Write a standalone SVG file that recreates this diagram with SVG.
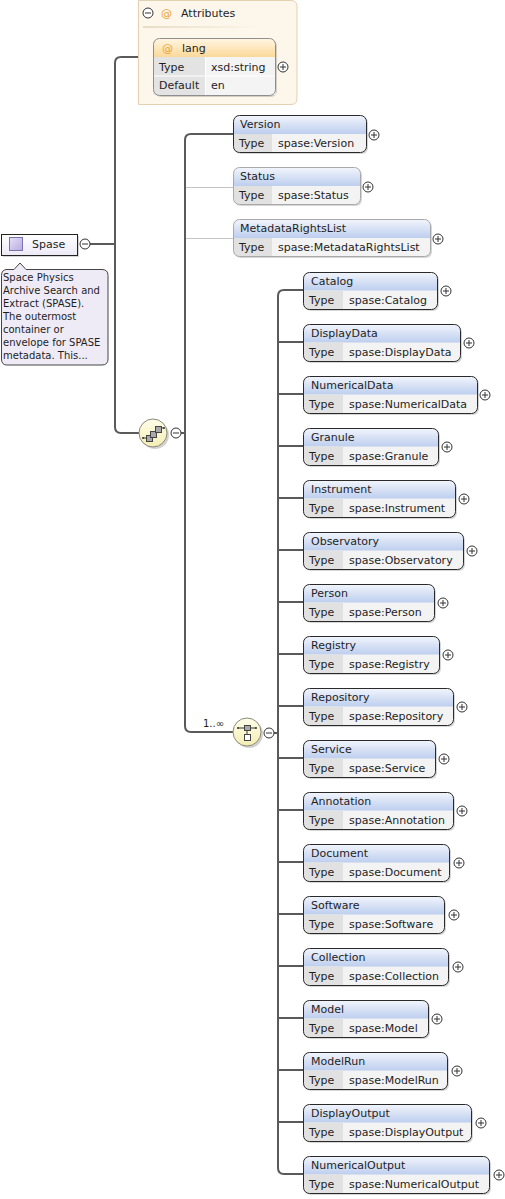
<svg xmlns="http://www.w3.org/2000/svg" width="505" height="1199" viewBox="0 0 505 1199">
<style>
text{font-family:"DejaVu Sans",Verdana,sans-serif;font-size:11px;fill:#1e1e1e}
.sm{font-size:10px}
.sh{fill:#000;opacity:.16}
.bd{fill:none;stroke:#2a2a2a;stroke-width:1}
.bdo{fill:none;stroke:#a9a9a9;stroke-width:1}
.row{fill:#F3F3F3}
.lab{fill:#E1E1E1}
.hd{fill:url(#hg)}
.sep{stroke:#fff;stroke-width:1}
.pc{fill:#fff;stroke:#333;stroke-width:1}
.pl{stroke:#333;stroke-width:1;fill:none}
.c{fill:none;stroke:#5a5a5a;stroke-width:2}
.co{fill:none;stroke:#c4c4c4;stroke-width:1}
.at{fill:#E9A232}
</style>
<defs>
<linearGradient id="hg" x1="0" y1="0" x2="0" y2="1"><stop offset="0" stop-color="#F2F5FC"/><stop offset="1" stop-color="#BDCEEE"/></linearGradient>
<linearGradient id="og" x1="0" y1="0" x2="0" y2="1"><stop offset="0" stop-color="#FFF6E4"/><stop offset="1" stop-color="#FBD898"/></linearGradient>
<linearGradient id="yg" x1="0" y1="0" x2="0" y2="1"><stop offset="0" stop-color="#FFFEEA"/><stop offset="1" stop-color="#F4EDB4"/></linearGradient>
<linearGradient id="pg" x1="0" y1="0" x2="0" y2="1"><stop offset="0" stop-color="#FFFFFF"/><stop offset="1" stop-color="#ECE9F6"/></linearGradient>
<linearGradient id="ig" x1="0" y1="0" x2="1" y2="1"><stop offset="0" stop-color="#E6E0F8"/><stop offset="1" stop-color="#B6AADF"/></linearGradient>
<linearGradient id="sg" x1="0" y1="0" x2="1" y2="0"><stop offset="0" stop-color="#E9DCC6"/><stop offset="1" stop-color="#FDF6EA"/></linearGradient>
<g id="plus"><circle class="pc" r="5"/><path class="pl" d="M-3 0H3M0 -3V3"/></g>
<g id="minus"><circle class="pc" r="5"/><path class="pl" d="M-3 0H3"/></g>
</defs>

<g id="connectors">
<path class="c" d="M90 244H115"/>
<path class="c" d="M138 57H121Q115 57 115 63V427Q115 433 121 433H139"/>
<path class="c" d="M181 433H185"/>
<path class="c" d="M233 134H191Q185 134 185 140V726Q185 732 191 732H233"/>
<path class="co" d="M186 187.5H233M186 238.5H233"/>
<path class="c" d="M274 733H278"/>
<path class="c" d="M303 290H284Q278 290 278 296V1168Q278 1174 284 1174H303"/>
<path class="c" d="M278 342H303M278 394H303M278 446H303M278 498H303M278 550H303M278 602H303M278 654H303M278 706H303M278 758H303M278 810H303M278 862H303M278 914H303M278 966H303M278 1018H303M278 1070H303M278 1122H303"/>
<text class="sm" x="203" y="727">1..∞</text>
</g>

<g id="attributes">
<path d="M138.5 0.5V104.5H291Q297 104.5 297 98.5V6.5Q297 0.5 291 0.5Z" fill="#FDF6EA" stroke="#E2D1B2"/>
<use href="#minus" x="148" y="13"/>
<text class="at" x="161" y="17">@</text>
<text x="181" y="17">Attributes</text>
<rect x="143" y="26" width="117" height="2" fill="url(#sg)"/>
</g>

<g id="lang">
<rect class="sh" x="155" y="40" width="122" height="57" rx="6"/>
<path d="M153.5 57V44Q153.5 38.5 159 38.5H269Q275.5 38.5 275.5 44V57Z" fill="url(#og)"/>
<rect x="153.5" y="57" width="122" height="38" fill="#F4F4F4"/>
<rect x="153.5" y="57" width="52" height="38" fill="#E3E3E3"/>
<path class="sep" d="M154 76H275M205.5 57V95"/>
<rect x="153.5" y="38.5" width="122" height="57" rx="6" fill="none" stroke="#8e8e8e"/>
<text class="at" x="162" y="52">@</text>
<text x="182" y="52">lang</text>
<text x="159" y="71">Type</text>
<text x="211" y="71">xsd:string</text>
<text x="159" y="89">Default</text>
<text x="211" y="89">en</text>
<use href="#plus" x="283" y="67"/>
</g>

<g id="spase">
<rect class="sh" x="3" y="236" width="76" height="21"/>
<rect x="1.5" y="234.5" width="76" height="21" fill="url(#pg)" stroke="#222"/>
<rect x="9.5" y="237.5" width="13" height="13" fill="url(#ig)" stroke="#7C72AE"/>
<text x="32" y="248">Spase</text>
<use href="#minus" x="85" y="244"/>
<path d="M7 269.5H14L20 263L26 269.5H102Q108 269.5 108 275.5V359Q108 365 102 365H7Q1.5 365 1.5 359V275.5Q1.5 269.5 7 269.5Z" fill="#EEEBF6" stroke="#444"/>
<text class="sm" x="3" y="281">Space Physics</text>
<text class="sm" x="3" y="294">Archive Search and</text>
<text class="sm" x="3" y="307">Extract (SPASE).</text>
<text class="sm" x="3" y="320">The outermost</text>
<text class="sm" x="3" y="333">container or</text>
<text class="sm" x="3" y="346">envelope for SPASE</text>
<text class="sm" x="3" y="359">metadata. This...</text>
</g>

<g id="sequence">
<circle cx="155" cy="435" r="14" fill="#000" opacity=".18"/>
<circle cx="153" cy="433" r="14" fill="url(#yg)" stroke="#8a8a7a"/>
<path d="M143 438H147M160 428H164" stroke="#333" fill="none"/>
<circle cx="143" cy="438" r="1" fill="#333"/><circle cx="164" cy="428" r="1" fill="#333"/>
<rect x="146.5" y="435.5" width="6" height="6" fill="#A9A9A9" stroke="#444"/>
<rect x="150.5" y="431.5" width="6" height="6" fill="#A9A9A9" stroke="#444"/>
<rect x="155.5" y="426.5" width="6" height="6" fill="#A9A9A9" stroke="#444"/>
<use href="#minus" x="176" y="433"/>
</g>

<g id="choice">
<circle cx="249" cy="734" r="14" fill="#000" opacity=".18"/>
<circle cx="247" cy="732" r="14" fill="url(#yg)" stroke="#8a8a7a"/>
<path d="M238 728H256M247 731V734" stroke="#333" fill="none"/>
<circle cx="238" cy="728" r="1" fill="#333"/><circle cx="256" cy="728" r="1" fill="#333"/>
<rect x="244.5" y="725.5" width="6" height="5" fill="#A9A9A9" stroke="#444"/>
<rect x="244.5" y="734.5" width="6" height="6" fill="#fff" stroke="#444"/>
<use href="#minus" x="269" y="733"/>
</g>

<g id="version">
<rect class="sh" x="235" y="117" width="133" height="37" rx="6"/>
<rect class="row" x="233.5" y="115.5" width="133" height="37" rx="6"/>
<path class="hd" d="M233.5 134V121.5Q233.5 115.5 239.5 115.5H360.5Q366.5 115.5 366.5 121.5V134Z"/>
<path class="lab" d="M233.5 134H272V152.5H239.5Q233.5 152.5 233.5 146.5Z"/>
<rect class="bd" x="233.5" y="115.5" width="133" height="37" rx="6"/>
<text x="240" y="128">Version</text>
<text x="239" y="147">Type</text>
<text x="278" y="147">spase:Version</text>
<use href="#plus" x="374" y="135"/>
</g>

<g id="status">
<rect class="sh" x="235" y="169" width="127" height="37" rx="6"/>
<rect class="row" x="233.5" y="167.5" width="127" height="37" rx="6"/>
<path class="hd" d="M233.5 186V173.5Q233.5 167.5 239.5 167.5H354.5Q360.5 167.5 360.5 173.5V186Z"/>
<path class="lab" d="M233.5 186H272V204.5H239.5Q233.5 204.5 233.5 198.5Z"/>
<rect class="bdo" x="233.5" y="167.5" width="127" height="37" rx="6"/>
<text x="240" y="180">Status</text>
<text x="239" y="199">Type</text>
<text x="278" y="199">spase:Status</text>
<use href="#plus" x="368" y="187"/>
</g>

<g id="metadatarightslist">
<rect class="sh" x="235" y="221" width="197" height="37" rx="6"/>
<rect class="row" x="233.5" y="219.5" width="197" height="37" rx="6"/>
<path class="hd" d="M233.5 238V225.5Q233.5 219.5 239.5 219.5H424.5Q430.5 219.5 430.5 225.5V238Z"/>
<path class="lab" d="M233.5 238H272V256.5H239.5Q233.5 256.5 233.5 250.5Z"/>
<rect class="bdo" x="233.5" y="219.5" width="197" height="37" rx="6"/>
<text x="240" y="232">MetadataRightsList</text>
<text x="239" y="251">Type</text>
<text x="278" y="251">spase:MetadataRightsList</text>
<use href="#plus" x="438" y="239"/>
</g>

<g id="catalog" transform="translate(0,272)">
<rect class="sh" x="305" y="2" width="134" height="37" rx="6"/><rect class="row" x="303.5" y="0.5" width="134" height="37" rx="6"/>
<path class="hd" d="M303.5 18.5V6.5Q303.5 0.5 309.5 0.5H431.5Q437.5 0.5 437.5 6.5V18.5Z"/><path class="lab" d="M303.5 18.5H343V37.5H309.5Q303.5 37.5 303.5 31.5Z"/>
<rect class="bd" x="303.5" y="0.5" width="134" height="37" rx="6"/>
<text x="311" y="13">Catalog</text><text x="309" y="32">Type</text><text x="349" y="32">spase:Catalog</text><use href="#plus" x="446" y="19"/>
</g>
<g id="displaydata" transform="translate(0,324)">
<rect class="sh" x="305" y="2" width="157" height="37" rx="6"/><rect class="row" x="303.5" y="0.5" width="157" height="37" rx="6"/>
<path class="hd" d="M303.5 18.5V6.5Q303.5 0.5 309.5 0.5H454.5Q460.5 0.5 460.5 6.5V18.5Z"/><path class="lab" d="M303.5 18.5H343V37.5H309.5Q303.5 37.5 303.5 31.5Z"/>
<rect class="bd" x="303.5" y="0.5" width="157" height="37" rx="6"/>
<text x="311" y="13">DisplayData</text><text x="309" y="32">Type</text><text x="349" y="32">spase:DisplayData</text><use href="#plus" x="469" y="19"/>
</g>
<g id="numericaldata" transform="translate(0,376)">
<rect class="sh" x="305" y="2" width="174" height="37" rx="6"/><rect class="row" x="303.5" y="0.5" width="174" height="37" rx="6"/>
<path class="hd" d="M303.5 18.5V6.5Q303.5 0.5 309.5 0.5H471.5Q477.5 0.5 477.5 6.5V18.5Z"/><path class="lab" d="M303.5 18.5H343V37.5H309.5Q303.5 37.5 303.5 31.5Z"/>
<rect class="bd" x="303.5" y="0.5" width="174" height="37" rx="6"/>
<text x="311" y="13">NumericalData</text><text x="309" y="32">Type</text><text x="349" y="32">spase:NumericalData</text><use href="#plus" x="485" y="19"/>
</g>
<g id="granule" transform="translate(0,428)">
<rect class="sh" x="305" y="2" width="135" height="37" rx="6"/><rect class="row" x="303.5" y="0.5" width="135" height="37" rx="6"/>
<path class="hd" d="M303.5 18.5V6.5Q303.5 0.5 309.5 0.5H432.5Q438.5 0.5 438.5 6.5V18.5Z"/><path class="lab" d="M303.5 18.5H343V37.5H309.5Q303.5 37.5 303.5 31.5Z"/>
<rect class="bd" x="303.5" y="0.5" width="135" height="37" rx="6"/>
<text x="311" y="13">Granule</text><text x="309" y="32">Type</text><text x="349" y="32">spase:Granule</text><use href="#plus" x="447" y="19"/>
</g>
<g id="instrument" transform="translate(0,480)">
<rect class="sh" x="305" y="2" width="152" height="37" rx="6"/><rect class="row" x="303.5" y="0.5" width="152" height="37" rx="6"/>
<path class="hd" d="M303.5 18.5V6.5Q303.5 0.5 309.5 0.5H449.5Q455.5 0.5 455.5 6.5V18.5Z"/><path class="lab" d="M303.5 18.5H343V37.5H309.5Q303.5 37.5 303.5 31.5Z"/>
<rect class="bd" x="303.5" y="0.5" width="152" height="37" rx="6"/>
<text x="311" y="13">Instrument</text><text x="309" y="32">Type</text><text x="349" y="32">spase:Instrument</text><use href="#plus" x="464" y="19"/>
</g>
<g id="observatory" transform="translate(0,532)">
<rect class="sh" x="305" y="2" width="160" height="37" rx="6"/><rect class="row" x="303.5" y="0.5" width="160" height="37" rx="6"/>
<path class="hd" d="M303.5 18.5V6.5Q303.5 0.5 309.5 0.5H457.5Q463.5 0.5 463.5 6.5V18.5Z"/><path class="lab" d="M303.5 18.5H343V37.5H309.5Q303.5 37.5 303.5 31.5Z"/>
<rect class="bd" x="303.5" y="0.5" width="160" height="37" rx="6"/>
<text x="311" y="13">Observatory</text><text x="309" y="32">Type</text><text x="349" y="32">spase:Observatory</text><use href="#plus" x="472" y="19"/>
</g>
<g id="person" transform="translate(0,584)">
<rect class="sh" x="305" y="2" width="131" height="37" rx="6"/><rect class="row" x="303.5" y="0.5" width="131" height="37" rx="6"/>
<path class="hd" d="M303.5 18.5V6.5Q303.5 0.5 309.5 0.5H428.5Q434.5 0.5 434.5 6.5V18.5Z"/><path class="lab" d="M303.5 18.5H343V37.5H309.5Q303.5 37.5 303.5 31.5Z"/>
<rect class="bd" x="303.5" y="0.5" width="131" height="37" rx="6"/>
<text x="311" y="13">Person</text><text x="309" y="32">Type</text><text x="349" y="32">spase:Person</text><use href="#plus" x="443" y="19"/>
</g>
<g id="registry" transform="translate(0,636)">
<rect class="sh" x="305" y="2" width="136" height="37" rx="6"/><rect class="row" x="303.5" y="0.5" width="136" height="37" rx="6"/>
<path class="hd" d="M303.5 18.5V6.5Q303.5 0.5 309.5 0.5H433.5Q439.5 0.5 439.5 6.5V18.5Z"/><path class="lab" d="M303.5 18.5H343V37.5H309.5Q303.5 37.5 303.5 31.5Z"/>
<rect class="bd" x="303.5" y="0.5" width="136" height="37" rx="6"/>
<text x="311" y="13">Registry</text><text x="309" y="32">Type</text><text x="349" y="32">spase:Registry</text><use href="#plus" x="448" y="19"/>
</g>
<g id="repository" transform="translate(0,688)">
<rect class="sh" x="305" y="2" width="150" height="37" rx="6"/><rect class="row" x="303.5" y="0.5" width="150" height="37" rx="6"/>
<path class="hd" d="M303.5 18.5V6.5Q303.5 0.5 309.5 0.5H447.5Q453.5 0.5 453.5 6.5V18.5Z"/><path class="lab" d="M303.5 18.5H343V37.5H309.5Q303.5 37.5 303.5 31.5Z"/>
<rect class="bd" x="303.5" y="0.5" width="150" height="37" rx="6"/>
<text x="311" y="13">Repository</text><text x="309" y="32">Type</text><text x="349" y="32">spase:Repository</text><use href="#plus" x="462" y="19"/>
</g>
<g id="service" transform="translate(0,740)">
<rect class="sh" x="305" y="2" width="132" height="37" rx="6"/><rect class="row" x="303.5" y="0.5" width="132" height="37" rx="6"/>
<path class="hd" d="M303.5 18.5V6.5Q303.5 0.5 309.5 0.5H429.5Q435.5 0.5 435.5 6.5V18.5Z"/><path class="lab" d="M303.5 18.5H343V37.5H309.5Q303.5 37.5 303.5 31.5Z"/>
<rect class="bd" x="303.5" y="0.5" width="132" height="37" rx="6"/>
<text x="311" y="13">Service</text><text x="309" y="32">Type</text><text x="349" y="32">spase:Service</text><use href="#plus" x="444" y="19"/>
</g>
<g id="annotation" transform="translate(0,792)">
<rect class="sh" x="305" y="2" width="150" height="37" rx="6"/><rect class="row" x="303.5" y="0.5" width="150" height="37" rx="6"/>
<path class="hd" d="M303.5 18.5V6.5Q303.5 0.5 309.5 0.5H447.5Q453.5 0.5 453.5 6.5V18.5Z"/><path class="lab" d="M303.5 18.5H343V37.5H309.5Q303.5 37.5 303.5 31.5Z"/>
<rect class="bd" x="303.5" y="0.5" width="150" height="37" rx="6"/>
<text x="311" y="13">Annotation</text><text x="309" y="32">Type</text><text x="349" y="32">spase:Annotation</text><use href="#plus" x="462" y="19"/>
</g>
<g id="document" transform="translate(0,844)">
<rect class="sh" x="305" y="2" width="146" height="37" rx="6"/><rect class="row" x="303.5" y="0.5" width="146" height="37" rx="6"/>
<path class="hd" d="M303.5 18.5V6.5Q303.5 0.5 309.5 0.5H443.5Q449.5 0.5 449.5 6.5V18.5Z"/><path class="lab" d="M303.5 18.5H343V37.5H309.5Q303.5 37.5 303.5 31.5Z"/>
<rect class="bd" x="303.5" y="0.5" width="146" height="37" rx="6"/>
<text x="311" y="13">Document</text><text x="309" y="32">Type</text><text x="349" y="32">spase:Document</text><use href="#plus" x="459" y="19"/>
</g>
<g id="software" transform="translate(0,896)">
<rect class="sh" x="305" y="2" width="141" height="37" rx="6"/><rect class="row" x="303.5" y="0.5" width="141" height="37" rx="6"/>
<path class="hd" d="M303.5 18.5V6.5Q303.5 0.5 309.5 0.5H438.5Q444.5 0.5 444.5 6.5V18.5Z"/><path class="lab" d="M303.5 18.5H343V37.5H309.5Q303.5 37.5 303.5 31.5Z"/>
<rect class="bd" x="303.5" y="0.5" width="141" height="37" rx="6"/>
<text x="311" y="13">Software</text><text x="309" y="32">Type</text><text x="349" y="32">spase:Software</text><use href="#plus" x="454" y="19"/>
</g>
<g id="collection" transform="translate(0,948)">
<rect class="sh" x="305" y="2" width="145" height="37" rx="6"/><rect class="row" x="303.5" y="0.5" width="145" height="37" rx="6"/>
<path class="hd" d="M303.5 18.5V6.5Q303.5 0.5 309.5 0.5H442.5Q448.5 0.5 448.5 6.5V18.5Z"/><path class="lab" d="M303.5 18.5H343V37.5H309.5Q303.5 37.5 303.5 31.5Z"/>
<rect class="bd" x="303.5" y="0.5" width="145" height="37" rx="6"/>
<text x="311" y="13">Collection</text><text x="309" y="32">Type</text><text x="349" y="32">spase:Collection</text><use href="#plus" x="458" y="19"/>
</g>
<g id="model" transform="translate(0,1000)">
<rect class="sh" x="305" y="2" width="125" height="37" rx="6"/><rect class="row" x="303.5" y="0.5" width="125" height="37" rx="6"/>
<path class="hd" d="M303.5 18.5V6.5Q303.5 0.5 309.5 0.5H422.5Q428.5 0.5 428.5 6.5V18.5Z"/><path class="lab" d="M303.5 18.5H343V37.5H309.5Q303.5 37.5 303.5 31.5Z"/>
<rect class="bd" x="303.5" y="0.5" width="125" height="37" rx="6"/>
<text x="311" y="13">Model</text><text x="309" y="32">Type</text><text x="349" y="32">spase:Model</text><use href="#plus" x="437" y="19"/>
</g>
<g id="modelrun" transform="translate(0,1052)">
<rect class="sh" x="305" y="2" width="144" height="37" rx="6"/><rect class="row" x="303.5" y="0.5" width="144" height="37" rx="6"/>
<path class="hd" d="M303.5 18.5V6.5Q303.5 0.5 309.5 0.5H441.5Q447.5 0.5 447.5 6.5V18.5Z"/><path class="lab" d="M303.5 18.5H343V37.5H309.5Q303.5 37.5 303.5 31.5Z"/>
<rect class="bd" x="303.5" y="0.5" width="144" height="37" rx="6"/>
<text x="311" y="13">ModelRun</text><text x="309" y="32">Type</text><text x="349" y="32">spase:ModelRun</text><use href="#plus" x="457" y="19"/>
</g>
<g id="displayoutput" transform="translate(0,1104)">
<rect class="sh" x="305" y="2" width="168" height="37" rx="6"/><rect class="row" x="303.5" y="0.5" width="168" height="37" rx="6"/>
<path class="hd" d="M303.5 18.5V6.5Q303.5 0.5 309.5 0.5H465.5Q471.5 0.5 471.5 6.5V18.5Z"/><path class="lab" d="M303.5 18.5H343V37.5H309.5Q303.5 37.5 303.5 31.5Z"/>
<rect class="bd" x="303.5" y="0.5" width="168" height="37" rx="6"/>
<text x="311" y="13">DisplayOutput</text><text x="309" y="32">Type</text><text x="349" y="32">spase:DisplayOutput</text><use href="#plus" x="481" y="19"/>
</g>
<g id="numericaloutput" transform="translate(0,1156)">
<rect class="sh" x="305" y="2" width="186" height="37" rx="6"/><rect class="row" x="303.5" y="0.5" width="186" height="37" rx="6"/>
<path class="hd" d="M303.5 18.5V6.5Q303.5 0.5 309.5 0.5H483.5Q489.5 0.5 489.5 6.5V18.5Z"/><path class="lab" d="M303.5 18.5H343V37.5H309.5Q303.5 37.5 303.5 31.5Z"/>
<rect class="bd" x="303.5" y="0.5" width="186" height="37" rx="6"/>
<text x="311" y="13">NumericalOutput</text><text x="309" y="32">Type</text><text x="349" y="32">spase:NumericalOutput</text><use href="#plus" x="499" y="19"/>
</g>
</svg>
